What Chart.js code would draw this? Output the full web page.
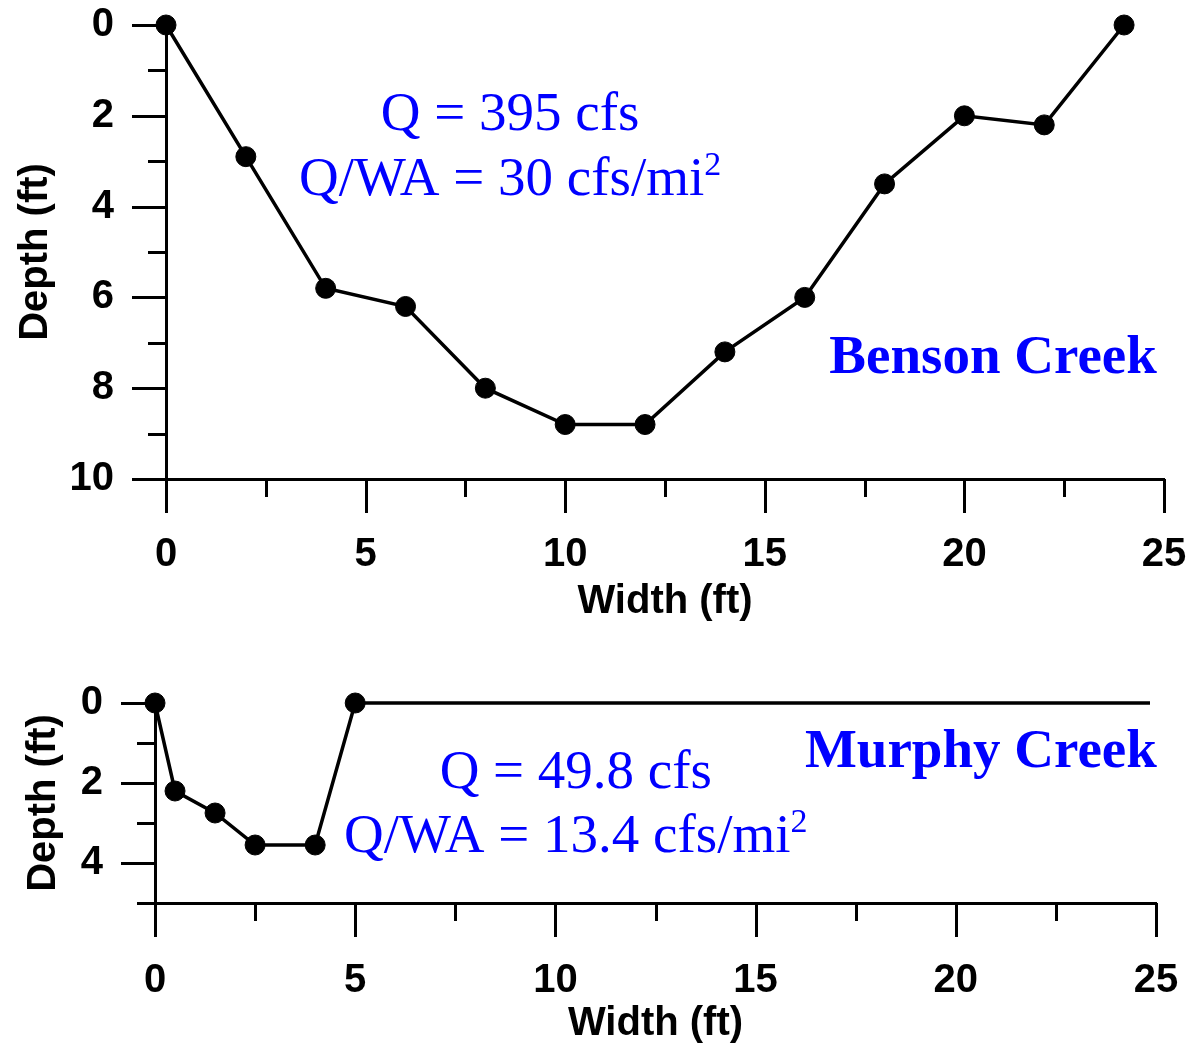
<!DOCTYPE html>
<html>
<head>
<meta charset="utf-8">
<script src="https://cdn.jsdelivr.net/npm/chart.js@4.4.0/dist/chart.umd.min.js"></script>
<style>
html, body { margin: 0; padding: 0; background: #fff; }
#benson { position: absolute; left: 0; top: 0; }
#murphy { position: absolute; left: 0; top: 640px; }
</style>
</head>
<body>
<canvas id="benson" width="1196" height="640"></canvas>
<canvas id="murphy" width="1196" height="404"></canvas>
<script>
// Data ------------------------------------------------------------------------------

const BENSON_WIDTH = [0, 2, 4, 6, 8, 10, 12, 14, 16, 18, 20, 22, 24];
const BENSON_DEPTH = [0, 2.9, 5.8, 6.2, 8.0, 8.8, 8.8, 7.2, 6.0, 3.5, 2.0, 2.2, 0];

const MURPHY_WIDTH = [0, 0.5, 1.5, 2.5, 4, 5, 24.85];
const MURPHY_DEPTH = [0, 2.2, 2.75, 3.55, 3.55, 0, 0];
const MURPHY_MARKER = [1, 1, 1, 1, 1, 1, 0];

const WIDTH_LABELS = [0, 5, 10, 15, 20, 25];
const BENSON_DEPTH_LABELS = [0, 2, 4, 6, 8, 10];
const MURPHY_DEPTH_LABELS = [0, 2, 4];

// Constants -------------------------------------------------------------------------

const SANS = "'Liberation Sans', Arial, sans-serif";
const SERIF = "'Liberation Serif', 'Times New Roman', serif";
const BLUE = '#0000ff';
const AXIS_W = 3;
const LINE_W = 3.5;
const MARKER_R = 10;
const MAJOR_LEN = 34;
const MINOR_LEN = 18;
const NOTE_SIZE = 55;

Chart.defaults.font.family = SANS;
Chart.defaults.color = '#000';

// Plugins ---------------------------------------------------------------------------

// major / minor tick marks, drawn outside the axes
const tickMarks = {
    id: 'tickMarks',
    beforeDatasetsDraw(chart, args, opts) {
        const ctx = chart.ctx;
        const area = chart.chartArea;
        const xs = chart.scales.x;
        const ys = chart.scales.y;
        ctx.save();
        ctx.strokeStyle = '#000';
        ctx.lineWidth = AXIS_W;
        ctx.beginPath();
        xs.ticks.forEach(function (t) {
            let px = Math.round(xs.getPixelForValue(t.value)) + 0.5;
            let len = opts.xMajor.includes(t.value) ? MAJOR_LEN : MINOR_LEN;
            ctx.moveTo(px, area.bottom);
            ctx.lineTo(px, area.bottom + len);
        });
        ys.ticks.forEach(function (t) {
            let py = Math.round(ys.getPixelForValue(t.value)) + 0.5;
            let len = opts.yMajor.includes(t.value) ? MAJOR_LEN : MINOR_LEN;
            ctx.moveTo(area.left, py);
            ctx.lineTo(area.left - len, py);
        });
        ctx.stroke();
        ctx.restore();
    }
};

// blue text notes, anchored in data units
const notes = {
    id: 'notes',
    afterDraw(chart, args, opts) {
        const ctx = chart.ctx;
        const xs = chart.scales.x;
        const ys = chart.scales.y;
        ctx.save();
        ctx.fillStyle = BLUE;
        ctx.textBaseline = 'alphabetic';
        ctx.textAlign = 'left';
        opts.items.forEach(function (n) {
            let mainFont = (n.bold ? 'bold ' : '') + NOTE_SIZE + 'px ' + SERIF;
            let supFont = '34px ' + SERIF;
            ctx.font = mainFont;
            let w = ctx.measureText(n.text).width;
            let ws = 0;
            if (n.sup) {
                ctx.font = supFont;
                ws = ctx.measureText(n.sup).width;
            }
            let total = w + ws;
            let px = xs.getPixelForValue(n.x);
            let py = ys.getPixelForValue(n.y);
            let left = n.align === 'right' ? px - total : px - total / 2;
            ctx.font = mainFont;
            ctx.fillText(n.text, left, py);
            if (n.sup) {
                ctx.font = supFont;
                ctx.fillText(n.sup, left + w, py - 20);
            }
        });
        ctx.restore();
    }
};

// Builders --------------------------------------------------------------------------

function buildPoints(xs, ys) {
    return xs.map(function (x, i) {
        return { x: x, y: ys[i] };
    });
}

// label offsets are done with invisible tick length, so tick padding stays 0
// (tick padding would also widen the chart's side padding)
function buildChart(id, cfg) {
    return new Chart(document.getElementById(id).getContext('2d'), {
        type: 'scatter',
        data: {
            datasets: [{
                data: buildPoints(cfg.xData, cfg.yData),
                showLine: true,
                borderColor: '#000',
                borderWidth: LINE_W,
                backgroundColor: '#000',
                pointBackgroundColor: '#000',
                pointBorderColor: '#000',
                pointBorderWidth: 1,
                pointRadius: cfg.radius,
                pointHoverRadius: cfg.radius,
                tension: 0,
                clip: false
            }]
        },
        options: {
            responsive: false,
            animation: false,
            events: [],
            layout: { padding: cfg.padding },
            plugins: {
                legend: { display: false },
                tooltip: { enabled: false },
                tickMarks: { xMajor: WIDTH_LABELS, yMajor: cfg.yLabels },
                notes: { items: cfg.notes }
            },
            scales: {
                x: {
                    type: 'linear',
                    min: 0,
                    max: 25,
                    afterFit: function (s) { s.height = cfg.xHeight; },
                    border: { display: true, width: AXIS_W, color: '#000' },
                    grid: { drawOnChartArea: false, drawTicks: true, tickLength: cfg.xLabelGap, tickColor: 'rgba(0,0,0,0)' },
                    ticks: {
                        stepSize: 2.5,
                        autoSkip: false,
                        maxRotation: 0,
                        padding: 0,
                        font: { size: 40, weight: 'bold' },
                        callback: function (v) { return WIDTH_LABELS.includes(v) ? String(v) : ''; }
                    },
                    title: {
                        display: true,
                        text: 'Width (ft)',
                        font: { size: 40, weight: 'bold', lineHeight: 1 },
                        padding: { top: 0, bottom: cfg.xTitlePad }
                    }
                },
                y: {
                    type: 'linear',
                    min: 0,
                    max: cfg.yMax,
                    reverse: true,
                    afterFit: function (s) { s.width = cfg.yWidth; },
                    border: { display: true, width: AXIS_W, color: '#000' },
                    grid: { drawOnChartArea: false, drawTicks: true, tickLength: 52, tickColor: 'rgba(0,0,0,0)' },
                    ticks: {
                        stepSize: 1,
                        autoSkip: false,
                        padding: 0,
                        font: { size: 40, weight: 'bold' },
                        callback: function (v) { return cfg.yLabels.includes(v) ? String(v) : ''; }
                    },
                    title: {
                        display: true,
                        text: 'Depth (ft)',
                        font: { size: 40, weight: 'bold', lineHeight: 1 },
                        padding: { top: cfg.yTitlePad, bottom: 0 }
                    }
                }
            }
        },
        plugins: [tickMarks, notes]
    });
}

// Charts ----------------------------------------------------------------------------

buildChart('benson', {
    xData: BENSON_WIDTH,
    yData: BENSON_DEPTH,
    radius: MARKER_R,
    yMax: 10,
    yLabels: BENSON_DEPTH_LABELS,
    padding: { top: 25, right: 32, bottom: 0, left: 0 },
    yWidth: 166,
    xHeight: 161,
    xLabelGap: 52,
    xTitlePad: 18,
    yTitlePad: 16,
    notes: [
        { text: 'Q = 395 cfs', x: 8.62, y: 2.31 },
        { text: 'Q/WA = 30 cfs/mi', sup: '2', x: 8.62, y: 3.74 },
        { text: 'Benson Creek', bold: true, align: 'right', x: 24.82, y: 7.67 }
    ]
});

buildChart('murphy', {
    xData: MURPHY_WIDTH,
    yData: MURPHY_DEPTH,
    radius: MURPHY_MARKER.map(function (m) { return m ? MARKER_R : 0; }),
    yMax: 5,
    yLabels: MURPHY_DEPTH_LABELS,
    padding: { top: 63, right: 40, bottom: 0, left: 0 },
    yWidth: 155,
    xHeight: 141,
    xLabelGap: 54,
    xTitlePad: 0,
    yTitlePad: 24,
    notes: [
        { text: 'Q = 49.8 cfs', x: 10.51, y: 2.125 },
        { text: 'Q/WA = 13.4 cfs/mi', sup: '2', x: 10.51, y: 3.725 },
        { text: 'Murphy Creek', bold: true, align: 'right', x: 25.02, y: 1.6 }
    ]
});
</script>
</body>
</html>
